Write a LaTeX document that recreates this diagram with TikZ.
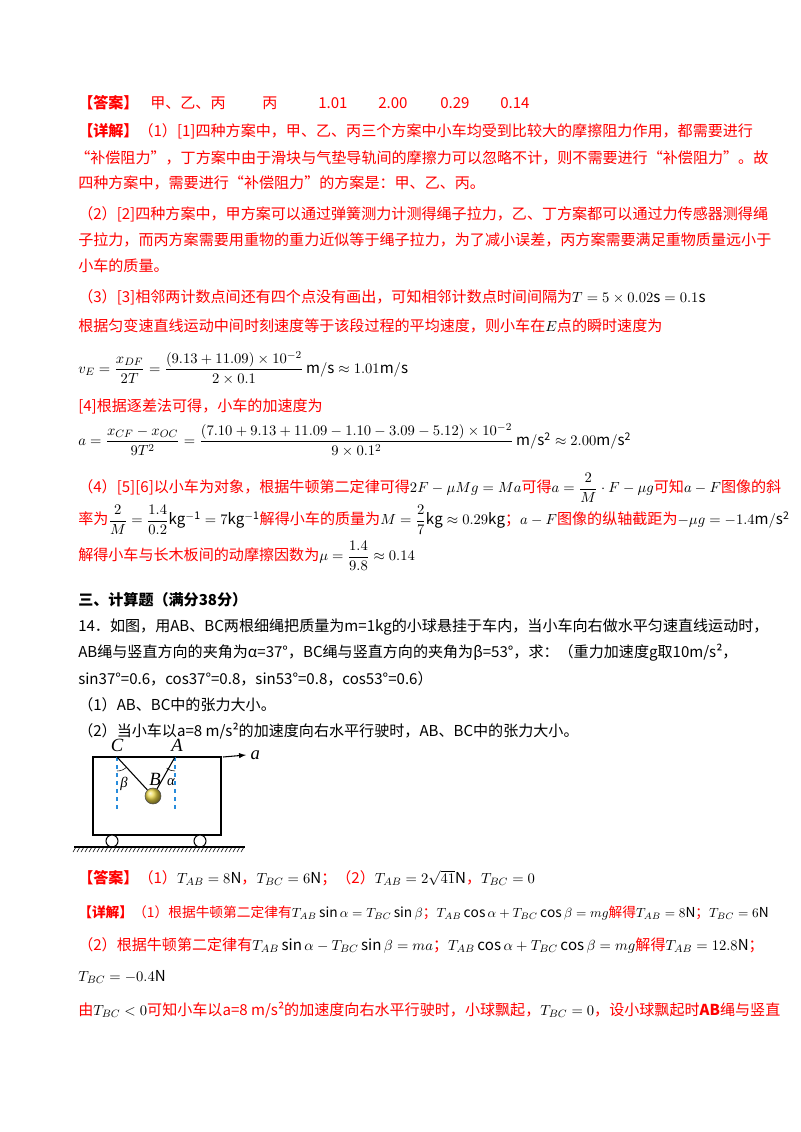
\documentclass[tikz,border=0pt]{standalone}
\usepackage{fontspec}
\usepackage{amsmath}
\setmainfont{Noto Sans CJK SC}
\definecolor{ans}{RGB}{255,0,0}
\definecolor{dashblue}{RGB}{40,140,220}
\newcommand{\mm}[1]{{\color{black}$#1$}}
\begin{document}
\begin{tikzpicture}[x=0.75pt,y=-0.75pt,
  txt/.style={anchor=west,inner sep=0pt,font=\fontsize{11.3pt}{13pt}\selectfont},
  red/.style={txt,text=ans},
  blk/.style={txt,text=black}]
\useasboundingbox (0,0) rectangle (800,1132);
\fill[white] (0,0) rectangle (800,1132);
\node[red] (a0) at (78,103) {\textbf{【答案】}};
\node[red] (a1) at (150,103) {甲、乙、丙};
\node[red] (a2) at (262,103) {丙};
\node[red] (a3) at (318,103) {1.01};
\node[red] (a4) at (378,103) {2.00};
\node[red] (a5) at (440,103) {0.29};
\node[red] (a6) at (500,103) {0.14};
\node[red] (l1) at (78,131) {\textbf{【详解】}（1）[1]四种方案中，甲、乙、丙三个方案中小车均受到比较大的摩擦阻力作用，都需要进行};
\node[red] (l2) at (75,158) {“补偿阻力”，丁方案中由于滑块与气垫导轨间的摩擦力可以忽略不计，则不需要进行“补偿阻力”。故};
\node[red] (l3) at (78,183) {四种方案中，需要进行“补偿阻力”的方案是：甲、乙、丙。};
\node[red] (l4) at (78,214) {（2）[2]四种方案中，甲方案可以通过弹簧测力计测得绳子拉力，乙、丁方案都可以通过力传感器测得绳};
\node[red] (l5) at (78,240) {子拉力，而丙方案需要用重物的重力近似等于绳子拉力，为了减小误差，丙方案需要满足重物质量远小于};
\node[red] (l6) at (78,266) {小车的质量。};
\node[red] (l7) at (78,297) {（3）[3]相邻两计数点间还有四个点没有画出，可知相邻计数点时间间隔为\mm{T=5\times0.02\mathrm{s}=0.1\mathrm{s}}};
\node[red] (l8) at (78,326) {根据匀变速直线运动中间时刻速度等于该段过程的平均速度，则小车在\mm{E}点的瞬时速度为};
\node[blk] (l9) at (78,368) {$v_E=\dfrac{x_{DF}}{2T}=\dfrac{(9.13+11.09)\times10^{-2}}{2\times0.1}\,\mathrm{m/s}\approx1.01\mathrm{m/s}$};
\node[red] (l10) at (78,406) {[4]根据逐差法可得，小车的加速度为};
\node[blk] (l11) at (78,440) {$a=\dfrac{x_{CF}-x_{OC}}{9T^2}=\dfrac{(7.10+9.13+11.09-1.10-3.09-5.12)\times10^{-2}}{9\times0.1^2}\,\mathrm{m/s^2}\approx2.00\mathrm{m/s^2}$};
\node[red] (l12) at (78,488) {（4）[5][6]以小车为对象，根据牛顿第二定律可得\mm{2F-\mu Mg=Ma}可得\mm{a=\dfrac{2}{M}\cdot F-\mu g}可知\mm{a-F}图像的斜};
\node[red] (l13) at (78,520) {率为\mm{\dfrac{2}{M}=\dfrac{1.4}{0.2}\mathrm{kg^{-1}}=7\mathrm{kg^{-1}}}解得小车的质量为\mm{M=\dfrac{2}{7}\mathrm{kg}\approx0.29\mathrm{kg}}；\mm{a-F}图像的纵轴截距为\mm{-\mu g=-1.4\mathrm{m/s^2}}};
\node[red] (l14) at (78,556) {解得小车与长木板间的动摩擦因数为\mm{\mu=\dfrac{1.4}{9.8}\approx0.14}};
\node[blk] (q0) at (78,600) {\textbf{三、计算题（满分38分）}};
\node[blk] (q1) at (78,627) {14．如图，用AB、BC两根细绳把质量为m=1kg的小球悬挂于车内，当小车向右做水平匀速直线运动时，};
\node[blk] (q2) at (78,653) {AB绳与竖直方向的夹角为α=37°，BC绳与竖直方向的夹角为β=53°，求：（重力加速度g取10m/s²，};
\node[blk] (q3) at (78,679) {sin37°=0.6，cos37°=0.8，sin53°=0.8，cos53°=0.6）};
\node[blk] (q4) at (78,705) {（1）AB、BC中的张力大小。};
\node[blk] (q5) at (78,731) {（2）当小车以a=8 m/s²的加速度向右水平行驶时，AB、BC中的张力大小。};
% diagram
\draw[thick] (93,757) rectangle (221,835);
\coordinate (C) at (117,757);
\coordinate (A) at (175,757);
\node[circle,inner sep=0pt,minimum size=12pt,draw=black!70,ball color=yellow!60!brown!80] (ball) at (153,796) {};
\draw[dashed,dashblue,thick] (C) -- ++(0,54);
\draw[dashed,dashblue,thick] (A) -- ++(0,54);
\draw[thick] (C) -- (ball);
\draw[thick] (A) -- (ball);
\draw (C) ++(0,14) arc[start angle=-90,end angle=-45,radius=10.5pt];
\draw (A) ++(0,14) arc[start angle=-90,end angle=-127,radius=10.5pt];
\node[font=\fontspec{Liberation Serif}\itshape\fontsize{14}{14}\selectfont] (Cl) at (117,745) {C};
\node[font=\fontspec{Liberation Serif}\itshape\fontsize{14}{14}\selectfont] (Al) at (177,745) {A};
\node[font=\fontspec{Liberation Serif}\itshape\fontsize{14}{14}\selectfont] (Bl) at (155,779) {B};
\node[font=\fontspec{Liberation Serif}\itshape\fontsize{11}{11}\selectfont] (bl) at (124,784) {β};
\node[font=\fontspec{Liberation Serif}\itshape\fontsize{11}{11}\selectfont] (al) at (171,782) {α};
\coordinate (ar0) at (223,757);
\node[font=\fontspec{Liberation Serif}\itshape\fontsize{14}{14}\selectfont,anchor=west] (aL) at (246,755) {a};
\draw[-latex,thick] (ar0) -- (aL.west);
\node[circle,draw,thick,minimum size=9pt,inner sep=0pt,fill=white] (w1) at (112,841) {};
\node[circle,draw,thick,minimum size=9pt,inner sep=0pt,fill=white] (w2) at (200,841) {};
\draw[thick] (74,847) -- (245,847);
\foreach \x in {76,80,...,244} \draw (\x,847) -- (\x-3,852);
% answers 14
\node[red] (b1) at (78,878) {\textbf{【答案】}（1）\mm{T_{AB}=8\mathrm{N}}，\mm{T_{BC}=6\mathrm{N}}；（2）\mm{T_{AB}=2\sqrt{41}\mathrm{N}}，\mm{T_{BC}=0}};
\node[red,font=\fontsize{10.3pt}{12pt}\selectfont] (b2) at (78,913) {\textbf{【详解】}（1）根据牛顿第二定律有\mm{T_{AB}\sin\alpha=T_{BC}\sin\beta}；\mm{T_{AB}\cos\alpha+T_{BC}\cos\beta=mg}解得\mm{T_{AB}=8\mathrm{N}}；\mm{T_{BC}=6\mathrm{N}}};
\node[red] (b3) at (78,945) {（2）根据牛顿第二定律有\mm{T_{AB}\sin\alpha-T_{BC}\sin\beta=ma}；\mm{T_{AB}\cos\alpha+T_{BC}\cos\beta=mg}解得\mm{T_{AB}=12.8\mathrm{N}}；};
\node[red] (b4) at (78,977) {\mm{T_{BC}=-0.4\mathrm{N}}};
\node[red] (b5) at (78,1010) {由\mm{T_{BC}<0}可知小车以\textit{a}=8 m/s²的加速度向右水平行驶时，小球飘起，\mm{T_{BC}=0}，设小球飘起时\textbf{\textit{AB}}绳与竖直};
\end{tikzpicture}
\end{document}
